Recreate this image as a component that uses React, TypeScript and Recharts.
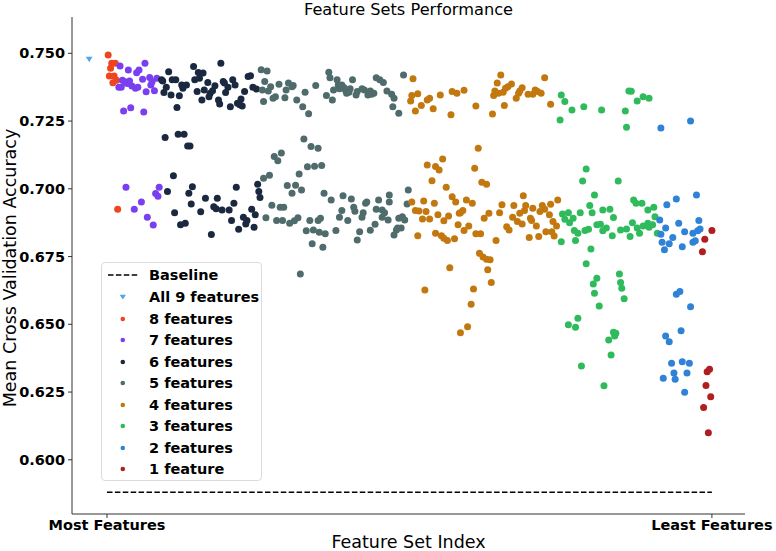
import React from 'react';
import { ScatterChart, Scatter, XAxis, YAxis, ReferenceLine } from 'recharts';

// [feature-set index, mean CV accuracy]
const allFeatures = [[-15, 0.7479]];
const features8 = [[1,0.7494],[2,0.7416],[3,0.7445],[4,0.7463],[5,0.7391],[6,0.7416],[7,0.7463],[8,0.7401],[9,0.6925]];
const features7 = [[10,0.7375],[11,0.7453],[12,0.7375],[13,0.7401],[14,0.7287],[15,0.7395],[16,0.7006],[17,0.7389],[18,0.7438],[19,0.7398],[20,0.7299],[21,0.7379],[23,0.6925],[24,0.7371],[25,0.7428],[26,0.7375],[27,0.7438],[29,0.6951],[30,0.7404],[31,0.7283],[32,0.7463],[33,0.7358],[34,0.6895],[36,0.7411],[37,0.7383],[38,0.7395],[39,0.6866],[40,0.7362],[41,0.6983],[42,0.7408],[43,0.6973],[44,0.7006]];
const features6 = [[46,0.7402],[47,0.7398],[48,0.7355],[50,0.7375],[52,0.7432],[54,0.7346],[55,0.7402],[58,0.7402],[59,0.7300],[61,0.7343],[63,0.7383],[64,0.7371],[67,0.7383],[73,0.7451],[74,0.7402],[76,0.7359],[77,0.7429],[78,0.7408],[80,0.7328],[81,0.7427],[82,0.7365],[85,0.7392],[86,0.7340],[87,0.7353],[89,0.7362],[91,0.7380],[94,0.7328],[95,0.7313],[96,0.7463],[98,0.7396],[99,0.7390],[100,0.7355],[102,0.7375],[104,0.7303],[106,0.7402],[108,0.7383],[110,0.7316],[112,0.7310],[113,0.7331],[114,0.7306],[116,0.7359],[119,0.7414],[121,0.7417],[123,0.7375],[126,0.7368],
[49,0.7189],[60,0.7201],[65,0.7201],[68,0.7158],[70,0.7158],
[56,0.7048],[51,0.6990],[57,0.6912],[62,0.6867],[66,0.6873],[69,0.6984],[71,0.6944],[72,0.7008],[79,0.6915],[83,0.6965],[88,0.6831],[90,0.6934],[92,0.6926],[93,0.6965],[97,0.6922],[103,0.6922],[105,0.6883],[107,0.6947],[109,0.7006],[111,0.6851],[115,0.6895],[117,0.6870],[118,0.6883],[122,0.6925],[124,0.6858],[125,0.6904],[127,0.7017],[128,0.6990],[129,0.6968]];
const features5 = [[130,0.7439],[135,0.7435],[133,0.7396],[131,0.7365],[136,0.7361],[138,0.7377],[132,0.7322],[140,0.7334],[142,0.7340],[145,0.7386],[150,0.7336],[151,0.7365],[153,0.7390],[156,0.7377],[157,0.7381],[160,0.7328],[165,0.7303],[167,0.7356],[170,0.7277],[176,0.7381],[187,0.7430],[188,0.7410],[185,0.7344],[190,0.7328],[191,0.7365],[194,0.7402],[195,0.7383],[196,0.7369],[198,0.7383],[200,0.7373],[202,0.7353],[201,0.7365],[204,0.7356],[205,0.7369],[207,0.7402],[210,0.7346],[211,0.7359],[215,0.7369],[217,0.7365],[220,0.7346],[222,0.7361],[223,0.7349],[225,0.7353],[227,0.7410],[230,0.7402],[233,0.7392],[236,0.7361],[240,0.7349],[242,0.7334],[241,0.7303],[246,0.7279],[250,0.7420],
[166,0.7184],[172,0.7156],[178,0.7150],[141,0.7119],[144,0.7104],[147,0.7132],[169,0.7081],[175,0.7083],[181,0.7086],
[132,0.7039],[137,0.7050],[162,0.7055],[152,0.7012],[159,0.7013],[156,0.6984],[164,0.6996],[183,0.6984],[189,0.6959],[199,0.6974],[206,0.6962],[208,0.6932],[209,0.6917],[198,0.6920],[196,0.6895],[203,0.6883],[216,0.6912],[218,0.6947],[219,0.6951],[215,0.6895],[229,0.6959],[238,0.6977],[238,0.6951],[227,0.6925],[232,0.6922],[234,0.6912],[232,0.6895],[237,0.6885],[226,0.6869],[222,0.6847],[213,0.6842],[211,0.6811],[193,0.6846],[184,0.6834],[182,0.6784],[173,0.6797],[179,0.6840],[174,0.6848],[168,0.6845],[171,0.6883],[178,0.6883],[180,0.6891],[161,0.6893],[158,0.6882],[154,0.6873],[148,0.6883],[143,0.6883],[134,0.6893],[139,0.6939],[146,0.6932],[149,0.6932],[246,0.6891],[249,0.6897],[251,0.6885],[253,0.6944],[254,0.6996],[244,0.6848],[242,0.6830],[248,0.6855],[245,0.6855],[163,0.6686]];
const features4 = [[256,0.7324],[257,0.7344],[258,0.7406],[260,0.7287],[262,0.7351],[265,0.7307],[270,0.7328],[272,0.7334],[275,0.7295],[281,0.7346],[290,0.7273],[291,0.7359],[295,0.7353],[301,0.7364],[311,0.7306],[325,0.7276],[326,0.7344],[327,0.7361],[329,0.7390],[332,0.7420],[330,0.7353],[334,0.7356],[336,0.7371],[338,0.7377],[341,0.7387],[335,0.7307],[345,0.7334],[347,0.7353],[348,0.7361],[350,0.7373],[355,0.7349],[359,0.7349],[361,0.7365],[363,0.7359],[366,0.7353],[369,0.7410],[374,0.7312],
[313,0.7150],[270,0.7088],[283,0.7110],[277,0.7082],[280,0.7069],[310,0.7076],[274,0.7030],[286,0.7006],[316,0.7024],[320,0.7017],
[257,0.6951],[260,0.6920],[263,0.6918],[269,0.6916],[267,0.6955],[266,0.6889],[272,0.6889],[276,0.6947],[279,0.6904],[284,0.6882],[288,0.6900],[291,0.6971],[294,0.6951],[297,0.6910],[300,0.6920],[298,0.6912],[296,0.6867],[303,0.6959],[308,0.6947],[305,0.6863],[301,0.6846],[277,0.6836],[282,0.6827],[284,0.6818],[287,0.6809],[293,0.6816],[262,0.6827],[311,0.6834],[315,0.6834],[318,0.6891],[322,0.6910],[328,0.6809],[331,0.6912],[333,0.6941],[343,0.6938],[342,0.6895],[337,0.6860],[339,0.6848],[346,0.6879],[350,0.6870],[348,0.6910],[352,0.6920],[351,0.6974],[353,0.6938],[359,0.6928],[357,0.6891],[358,0.6883],[362,0.6863],[356,0.6820],[364,0.6824],[365,0.6916],[367,0.6938],[369,0.6925],[373,0.6904],[374,0.6943],[380,0.6959],[376,0.6879],[379,0.6863],[375,0.6842],[370,0.6842],[377,0.6826],
[314,0.6762],[317,0.6748],[320,0.6740],[323,0.6738],[321,0.6701],[324,0.6654],[289,0.6709],[268,0.6627],[309,0.6630],[307,0.6574],[304,0.6491],[298,0.6469]];
const features3 = [[382,0.7254],[383,0.7346],[386,0.7322],[392,0.7291],[402,0.7303],[417,0.7291],[437,0.7287],[438,0.7227],[440,0.7361],[442,0.7360],[447,0.7324],[452,0.7340],[457,0.7334],
[404,0.7073],[401,0.7029],[431,0.7029],[411,0.6977],[444,0.6959],[446,0.6947],[451,0.6947],[407,0.6938],[409,0.6912],[399,0.6912],[418,0.6922],[424,0.6925],[427,0.6894],[456,0.6922],[461,0.6932],[462,0.6897],[384,0.6907],[389,0.6912],[386,0.6888],[390,0.6875],[393,0.6891],[394,0.6846],[397,0.6836],[395,0.6809],[383,0.6805],[403,0.6846],[406,0.6851],[413,0.6867],[416,0.6869],[418,0.6845],[421,0.6855],[426,0.6827],[433,0.6848],[438,0.6852],[441,0.6824],[443,0.6875],[447,0.6855],[449,0.6836],[452,0.6863],[456,0.6873],[457,0.6858],[460,0.6867],[464,0.6836],
[408,0.6778],[404,0.6723],[413,0.6670],[410,0.6649],[411,0.6615],[415,0.6568],[432,0.6686],[433,0.6654],[434,0.6633],[436,0.6594],[397,0.6522],[389,0.6498],[395,0.6489],[427,0.6471],[429,0.6467],[428,0.6457],[423,0.6442],[425,0.6387],[400,0.6346],[419,0.6273]];
const features2 = [[466,0.6885],[467,0.7224],[467,0.6832],[468,0.6803],[469,0.6301],[470,0.6775],[471,0.6855],[471,0.6457],[472,0.6941],[474,0.6436],[474,0.6797],[476,0.6356],[477,0.6820],[478,0.6320],[479,0.6297],[480,0.6962],[480,0.6611],[482,0.6873],[483,0.6621],[484,0.6476],[485,0.6362],[485,0.6786],[487,0.6249],[487,0.6842],[489,0.6320],[491,0.6356],[492,0.6565],[492,0.7250],[494,0.6836],[494,0.6803],[496,0.6808],[497,0.6977],[498,0.6845],[499,0.6883],[500,0.6852]];
const features1 = [[502,0.6768],[503,0.6193],[504,0.6814],[505,0.6274],[506,0.6325],[507,0.6100],[508,0.6334],[509,0.6233],[510,0.6846]];

const baselineAccuracy = 0.588;
const baselineRange = [0, 510];
const yTicks = [0.6, 0.625, 0.65, 0.675, 0.7, 0.725, 0.75];
const xTicks = [0, 510];
const xTickLabels = ['Most Features', 'Least Features'];

const FONT = 'DejaVu Sans';

const series = [
  { name: 'All 9 features', data: allFeatures, color: '#52a7e6', tri: true },
  { name: '8 features', data: features8, color: '#f0441e' },
  { name: '7 features', data: features7, color: '#7a3ff0' },
  { name: '6 features', data: features6, color: '#1b2940' },
  { name: '5 features', data: features5, color: '#4f6b6c' },
  { name: '4 features', data: features4, color: '#c2780f' },
  { name: '3 features', data: features3, color: '#2fbb5c' },
  { name: '2 features', data: features2, color: '#2f82d6' },
  { name: '1 feature', data: features1, color: '#b01e22' },
];

const toPoints = (arr: number[][]) => arr.map(([i, acc]) => ({ i, acc }));

const dotShape = (color: string) => (props: any) => (
  <circle cx={props.cx} cy={props.cy} r={3.5} fill={color} />
);
const triShape = (color: string) => (props: any) => {
  const { cx, cy } = props;
  return <path d={`M${cx - 3.4},${cy - 2.3} L${cx + 3.4},${cy - 2.3} L${cx},${cy + 3.2} Z`} fill={color} />;
};

const tickStyle = { fontFamily: FONT, fontSize: 14.5, fontWeight: 700, fill: '#000' };

export default function App() {
  const rowTops = [274, 296, 317.5, 339, 360.5, 382, 403.5, 425, 446.5, 468];
  const legendRows = [{ name: 'Baseline', line: true } as any, ...series];
  return (
    <div style={{ position: 'absolute', left: 0, top: 0, width: 776, height: 551, background: '#fff' }}>
      <ScatterChart width={776} height={551} margin={{ top: 17, right: 31, bottom: 0, left: 0 }}>
        <XAxis
          type="number"
          dataKey="i"
          domain={[-29.5, 537.9]}
          allowDataOverflow
          ticks={xTicks}
          interval={0}
          tickFormatter={(v: number) => xTickLabels[xTicks.indexOf(v)] ?? ''}
          tick={tickStyle}
          tickSize={4}
          tickMargin={2}
          height={37}
          axisLine={{ stroke: '#333', strokeWidth: 1 }}
          tickLine={{ stroke: '#333' }}
          label={{
            content: () => (
              <text x={408.5} y={548} textAnchor="middle" fontFamily={FONT} fontSize={17.5} fill="#000">
                Feature Set Index
              </text>
            ),
          }}
        />
        <YAxis
          type="number"
          dataKey="acc"
          domain={[0.58, 0.7634]}
          allowDataOverflow
          ticks={yTicks}
          interval={0}
          tickFormatter={(v: number) => v.toFixed(3)}
          tick={tickStyle}
          tickSize={4}
          tickMargin={3}
          width={72}
          axisLine={{ stroke: '#333', strokeWidth: 1 }}
          tickLine={{ stroke: '#333' }}
          label={{
            content: () => (
              <g>
                <text
                  x={15.5}
                  y={268}
                  transform="rotate(-90 15.5 268)"
                  textAnchor="middle"
                  fontFamily={FONT}
                  fontSize={17.5}
                  fill="#000"
                >
                  Mean Cross Validation Accuracy
                </text>
                <text x={408.5} y={14.5} textAnchor="middle" fontFamily={FONT} fontSize={16.2} fill="#000">
                  Feature Sets Performance
                </text>
              </g>
            ),
          }}
        />
        <ReferenceLine
          segment={[
            { x: baselineRange[0], y: baselineAccuracy },
            { x: baselineRange[1], y: baselineAccuracy },
          ]}
          stroke="#000"
          strokeWidth={1.5}
          strokeDasharray="5.5 2.4"
          ifOverflow="visible"
        />
        {series.map((s) => (
          <Scatter
            key={s.name}
            name={s.name}
            data={toPoints(s.data)}
            fill={s.color}
            shape={s.tri ? triShape(s.color) : dotShape(s.color)}
            isAnimationActive={false}
          />
        ))}
      </ScatterChart>
      <div
        style={{
          position: 'absolute',
          left: 101,
          top: 262,
          width: 161,
          height: 219,
          boxSizing: 'border-box',
          border: '1px solid #dcdcdc',
          borderRadius: 4,
          background: 'rgba(255,255,255,0.85)',
        }}
      >
        {legendRows.map((r: any, k: number) => (
          <div
            key={r.name}
            style={{ position: 'absolute', left: 0, top: rowTops[k] - 262 - 10, height: 20, width: 160 }}
          >
            <svg width={40} height={20} style={{ position: 'absolute', left: 0, top: 0 }}>
              {r.line ? (
                <line x1={6} y1={10} x2={36} y2={10} stroke="#000" strokeWidth={1.5} strokeDasharray="5.5 2.4" />
              ) : r.tri ? (
                <path d="M17.6,7.8 L24,7.8 L20.8,12.6 Z" fill={r.color} />
              ) : (
                <circle cx={20.8} cy={10} r={2.3} fill={r.color} />
              )}
            </svg>
            <span
              style={{
                position: 'absolute',
                left: 47,
                top: 0,
                lineHeight: '20px',
                fontFamily: FONT,
                fontSize: 14.5,
                fontWeight: 700,
                color: '#000',
                whiteSpace: 'nowrap',
              }}
            >
              {r.name}
            </span>
          </div>
        ))}
      </div>
    </div>
  );
}
